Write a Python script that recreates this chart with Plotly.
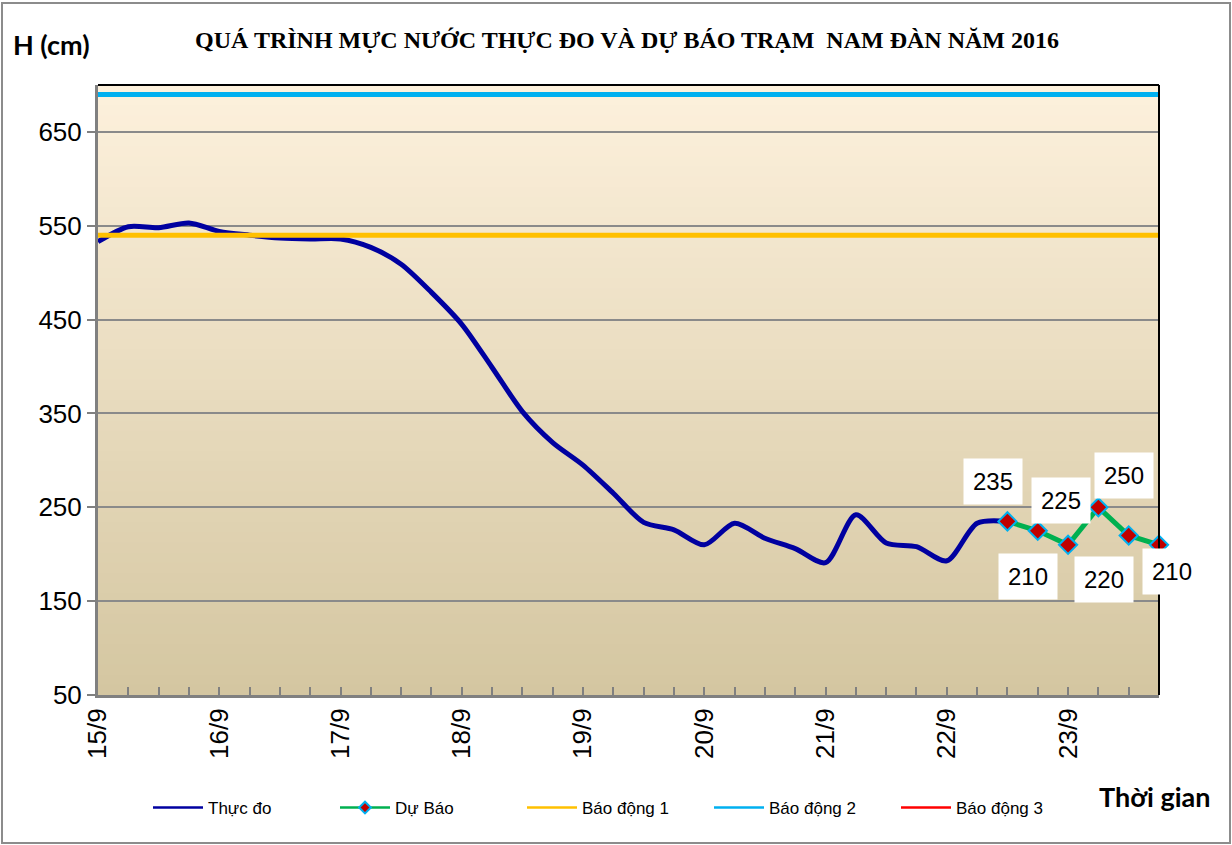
import plotly.graph_objects as go

# 6-hourly steps from 15/9 00h to 23/9 18h (index 0..35)
day_labels = ["15/9", "16/9", "17/9", "18/9", "19/9", "20/9", "21/9", "22/9", "23/9"]
day_index = [0, 4, 8, 12, 16, 20, 24, 28, 32]

obs_index = list(range(0, 31))
obs_level = [533, 549, 548, 553, 544, 540, 537, 536, 536, 527, 509, 479, 445, 399,
             352, 319, 295, 265, 234, 226, 210, 233, 217, 206, 191, 242, 212, 208,
             193, 233, 235]

fc_index = [30, 31, 32, 33, 34, 35]
fc_level = [235, 225, 210, 250, 220, 210]

alarm_names = ["Báo động 1", "Báo động 2", "Báo động 3"]
alarm_levels = [540, 690, 790]
alarm_colors = ["#FFC000", "#00B0F0", "#FF0000"]

x_span = [0, 35]

# label offsets (px) for forecast values
label_dx = [-14, 23, -40, 26, -25, 13]
label_dy = [-40, -30, 32, -32, 44, 27]

W, H = 1232, 845
L, R, T, B = 98, 1159, 85, 695


def px_x(p):
    return (p - L) / (R - L)


def px_y(p):
    return (B - p) / (B - T)


fig = go.Figure()

fig.add_trace(go.Scatter(
    x=obs_index, y=obs_level, mode="lines", showlegend=False,
    line=dict(color="#0000A0", width=5, shape="spline", smoothing=0.8)
))

fig.add_trace(go.Scatter(
    x=fc_index, y=fc_level, mode="lines+markers", showlegend=False,
    line=dict(color="#00B050", width=5),
    marker=dict(symbol="diamond", size=14, color="#C00000",
                line=dict(color="#00B0F0", width=2)),
    cliponaxis=False
))

for lvl, col in zip(alarm_levels, alarm_colors):
    fig.add_trace(go.Scatter(
        x=x_span, y=[lvl, lvl], mode="lines", showlegend=False,
        line=dict(color=col, width=5)
    ))

# legend entries (thin lines like the original)
fig.add_trace(go.Scatter(x=[None], y=[None], mode="lines", name="Thực đo",
                         line=dict(color="#0000A0", width=2.5)))
fig.add_trace(go.Scatter(x=[None], y=[None], mode="lines+markers", name="Dự Báo",
                         line=dict(color="#00B050", width=2.5),
                         marker=dict(symbol="diamond", size=9, color="#C00000",
                                     line=dict(color="#00B0F0", width=2))))
for name, col in zip(alarm_names, alarm_colors):
    fig.add_trace(go.Scatter(x=[None], y=[None], mode="lines", name=name,
                             line=dict(color=col, width=2.5)))

for xi, v, dx, dy in zip(fc_index, fc_level, label_dx, label_dy):
    fig.add_annotation(
        x=xi, y=v, text=str(v), showarrow=True, arrowcolor="rgba(0,0,0,0)",
        ax=dx, ay=dy, bgcolor="white", borderpad=9,
        font=dict(family="Arial, Liberation Sans", size=24, color="black")
    )

# background gradient
top_c = (253, 241, 221)
bot_c = (212, 198, 160)
n = 60
for k in range(n):
    t = (k + 0.5) / n
    c = tuple(int(round(top_c[j] + (bot_c[j] - top_c[j]) * t)) for j in range(3))
    fig.add_shape(type="rect", xref="x domain", yref="y domain",
                  x0=0, x1=1, y0=1 - (k + 1) / n - 0.002, y1=1 - k / n,
                  fillcolor="rgb(%d,%d,%d)" % c, line_width=0, layer="below")

# top and right plot border
fig.add_shape(type="line", xref="x domain", yref="y domain", x0=0, x1=1, y0=1, y1=1,
              line=dict(color="black", width=2))
fig.add_shape(type="line", xref="x domain", yref="y domain", x0=1, x1=1, y0=0, y1=1,
              line=dict(color="black", width=2))

# outer frame
fig.add_shape(type="rect", xref="paper", yref="paper",
              x0=px_x(2), x1=px_x(1230), y0=px_y(843), y1=px_y(3),
              line=dict(color="#8C8C8C", width=2))

fig.add_annotation(text="<b>H (cm)</b>", xref="paper", yref="paper",
                   x=px_x(51), y=px_y(45), xanchor="center", yanchor="middle",
                   showarrow=False,
                   font=dict(family="Lato, Open Sans", size=27, color="black"))
fig.add_annotation(text="<b>Thời gian</b>", xref="paper", yref="paper",
                   x=px_x(1155), y=px_y(796), xanchor="center", yanchor="middle",
                   showarrow=False,
                   font=dict(family="Lato, Open Sans", size=27, color="black"))

fig.update_layout(
    width=W, height=H,
    title=dict(
        text="<b>QUÁ TRÌNH MỰC NƯỚC THỰC ĐO VÀ DỰ BÁO TRẠM  NAM ĐÀN NĂM 2016</b>",
        x=px_x(627), xref="paper", xanchor="center",
        y=1 - 40 / H, yanchor="middle",
        font=dict(family="Liberation Serif, Times New Roman", size=24, color="black")
    ),
    paper_bgcolor="white",
    plot_bgcolor="rgba(0,0,0,0)",
    font=dict(family="Arial, Liberation Sans", color="black"),
    margin=dict(l=L, r=W - R, t=T, b=H - B),
    xaxis=dict(
        range=x_span, tickvals=day_index, ticktext=day_labels, tickangle=-90,
        tickfont=dict(size=26), showgrid=False, zeroline=False,
        showline=True, linecolor="#808080", linewidth=3,
        ticks="inside", ticklen=8, tickcolor="#808080", tickwidth=2,
        minor=dict(dtick=1, ticks="inside", ticklen=8, tickcolor="#808080",
                   tickwidth=2, showgrid=False)
    ),
    yaxis=dict(
        range=[50, 700], tickvals=[50, 150, 250, 350, 450, 550, 650],
        tickfont=dict(size=26), showgrid=True, gridcolor="#8A8A8A", gridwidth=1.5,
        zeroline=False, showline=True, linecolor="#808080", linewidth=3,
        ticks="outside", ticklen=8, tickcolor="#808080", tickwidth=2
    ),
    showlegend=True,
    legend=dict(
        orientation="h", x=px_x(148), y=px_y(808), xanchor="left", yanchor="middle",
        font=dict(size=17), itemwidth=50, entrywidth=122, entrywidthmode="pixels",
        bgcolor="rgba(0,0,0,0)"
    )
)

fig.write_html("out.html", config={"displayModeBar": False},
               post_script="document.body.style.margin='0';")
